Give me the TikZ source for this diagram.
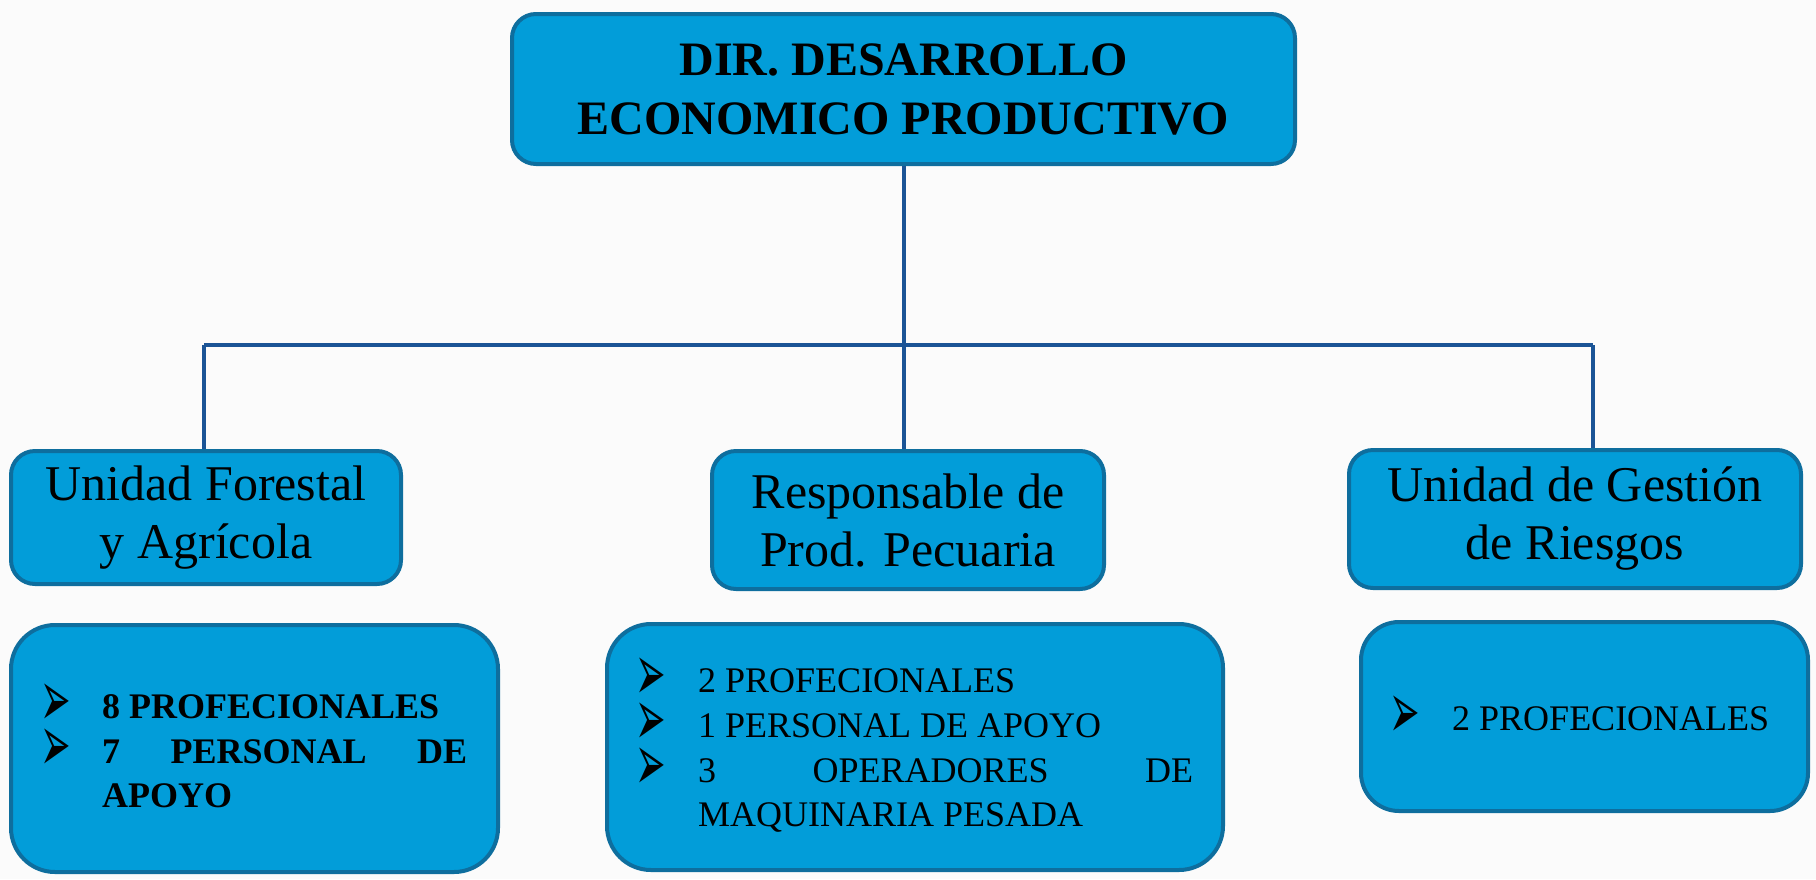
\documentclass[tikz,border=0pt]{standalone}
\usepackage{fontspec}
\setmainfont{Liberation Serif}
\newfontfamily\dv{DejaVu Sans}
\definecolor{boxfill}{RGB}{2,157,217}
\definecolor{boxline}{RGB}{14,110,158}
\definecolor{conncol}{RGB}{27,84,150}
\definecolor{bgcol}{RGB}{251,251,251}
\newcommand{\arrbul}{\scalebox{0.73}[1.6]{➢}}
\begin{document}
\begin{tikzpicture}[x=1pt,y=-1pt,
  box/.style={draw=boxline, line width=4pt, fill=boxfill, inner sep=0pt, rounded corners=24pt},
  conn/.style={draw=conncol, line width=4pt},
  toptxt/.style={align=center, font=\fontsize{48}{59}\selectfont\bfseries},
  midtxt/.style={align=center, font=\fontsize{50}{58}\selectfont},
  itm/.style={anchor=base west, inner sep=0pt, font=\fontsize{36}{44}\selectfont},
  bul/.style={anchor=center, inner sep=0pt, font=\dv\fontsize{50}{50}\selectfont}]
\useasboundingbox (0,0) rectangle (1816,879);
\fill[bgcol] (0,0) rectangle (1816,879);

% top box
\node[box, minimum width=783pt, minimum height=150pt, toptxt] (top) at (903.5,89) {DIR. DESARROLLO\\ECONOMICO PRODUCTIVO};

% unit boxes
\node[box, minimum width=390pt, minimum height=133pt, midtxt] (u1) at (206,517.5) {Unidad Forestal\\y Agrícola};
\node[box, minimum width=392pt, minimum height=138pt, midtxt] (u2) at (908,520) {Responsable de\\Prod. Pecuaria};
\node[box, minimum width=452pt, minimum height=138pt, midtxt] (u3) at (1575,519) {Unidad de Gestión\\de Riesgos};

% detail boxes
\node[box, rounded corners=44pt, minimum width=487pt, minimum height=247pt] (b1) at (254.5,748.5) {};
\node[box, rounded corners=44pt, minimum width=616pt, minimum height=246pt] (b2) at (915,747) {};
\node[box, rounded corners=38pt, minimum width=447pt, minimum height=189pt] (b3) at (1584.5,716.5) {};

% connectors
\coordinate (busL) at (204,345);
\coordinate (busR) at (1593,345);
\coordinate (j) at (top.south |- busL);
\draw[conn] (top.south) -- (j);
\draw[conn] (busL) -- (busR);
\draw[conn] (busL) -- (busL |- u1.north);
\draw[conn] (j) -- (j |- u2.north);
\draw[conn] (busR) -- (busR |- u3.north);

% list b1
\node[bul] (b1a) at (56,705) {\arrbul};
\node[itm] (b1t1) at (102,718) {\bfseries 8 PROFECIONALES};
\node[bul] (b1b) at (56,750) {\arrbul};
\node[itm] (b1t2) at (102,763) {\makebox[365pt][s]{\bfseries 7 PERSONAL DE}};
\node[itm] (b1t3) at (102,807) {\bfseries APOYO};

% list b2
\node[bul] (b2a) at (651,679) {\arrbul};
\node[itm] (b2t1) at (698,692) {2 PROFECIONALES};
\node[bul] (b2b) at (651,724) {\arrbul};
\node[itm] (b2t2) at (698,737) {1 PERSONAL DE APOYO};
\node[bul] (b2c) at (651,769) {\arrbul};
\node[itm] (b2t3) at (698,782) {\makebox[495pt][s]{3 OPERADORES DE}};
\node[itm] (b2t4) at (698,826) {MAQUINARIA PESADA};

% list b3
\node[bul] (b3a) at (1405,717) {\arrbul};
\node[itm] (b3t1) at (1452,730) {2 PROFECIONALES};
\end{tikzpicture}
\end{document}
